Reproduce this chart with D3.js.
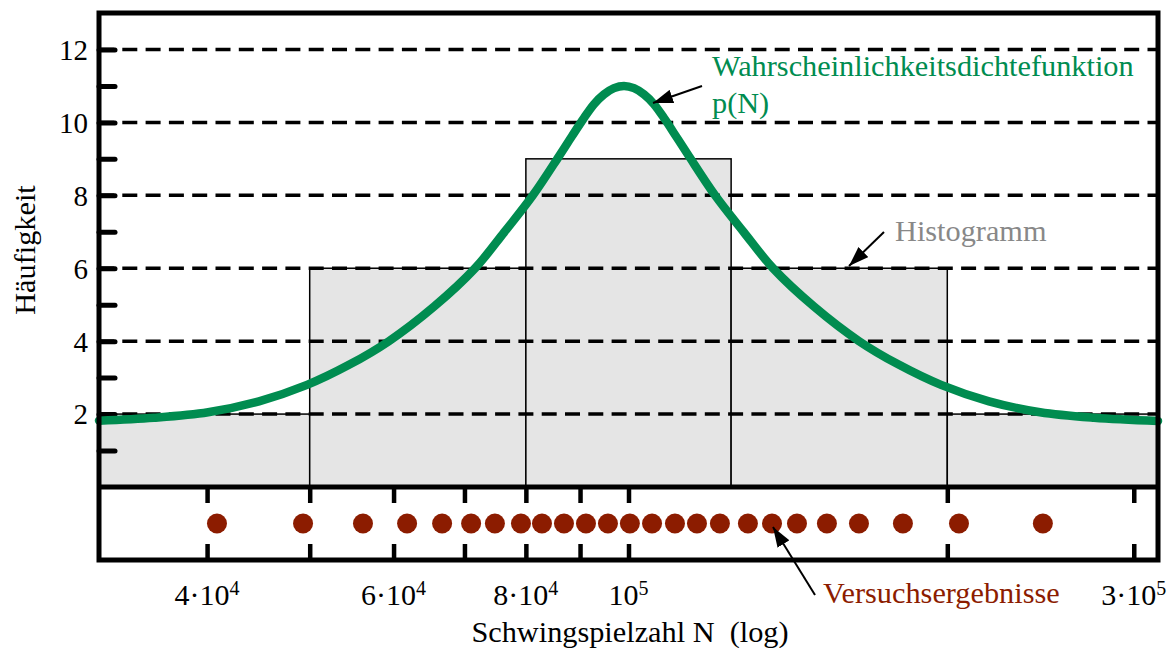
<!DOCTYPE html>
<html>
<head>
<meta charset="utf-8">
<script src="https://cdn.jsdelivr.net/npm/d3@7"></script>
<style>
  body { margin: 0; background: #fff; }
  svg { display: block; font-family: "Liberation Serif", "Times New Roman", serif; }
</style>
</head>
<body>
<svg></svg>
<script>
// Histogram + density of fatigue test results
const SVG = d3.select('svg');
const SVG_WIDTH = 1170;
const SVG_HEIGHT = 648;
const LEFT = 99, RIGHT = 1158, TOP = 13, BASE = 487, BOTTOM = 560;

// Data
const binEdges = [31623, 50000, 80000, 125000, 200000, 316228];
const binCounts = [2, 6, 9, 6, 2];
const samples = [40870, 49280, 56140, 61790, 66680, 71020, 74790, 79150, 82850, 86910,
                 91170, 95630, 100300, 105250, 110630, 116050, 121990, 129650, 136620,
                 144240, 153940, 165050, 181600, 205150, 246200];
const curveN = [31623, 35630, 40090, 44780, 49710, 54460, 59390, 65530, 71630, 76290,
                81230, 85960, 88420, 90570, 92770, 94810, 96900, 99030, 101200, 103430,
                105700, 108260, 110880, 114060, 120700, 128560, 136930, 149670, 165100, 180100,
                197300, 219000, 244700, 275200, 316228];
const curveP = [1.82, 1.9, 2.05, 2.35, 2.8, 3.35, 4.0, 4.95, 6.0, 6.98,
                8.0, 9.07, 9.62, 10.08, 10.5, 10.77, 10.94, 11.0, 10.94, 10.77,
                10.5, 10.08, 9.62, 9.07, 8.0, 6.98, 6.0, 4.95, 4.0, 3.35,
                2.8, 2.35, 2.05, 1.9, 1.81];
const yGridValues = [2, 4, 6, 8, 10, 12];
const yTickValues = [1, 2, 3, 4, 5, 6, 7, 8, 9, 10, 11, 12];
const xTickValues = [40000, 50000, 60000, 70000, 80000, 90000, 100000, 200000, 300000];
const xLabelValues = [40000, 60000, 80000, 100000, 300000];
const xLabelBase = ['4·10', '6·10', '8·10', '10', '3·10'];
const xLabelExp = ['4', '4', '4', '5', '5'];

const GREEN = '#008c50';
const RED = '#8c1c00';
const FONT = 30.3;

SVG.attr('width', SVG_WIDTH).attr('height', SVG_HEIGHT);

// Scales
var xScale = d3.scaleLog().domain([binEdges[0], binEdges[binEdges.length - 1]]).range([LEFT, RIGHT]);
var yScale = d3.scaleLinear().domain([0, 13]).range([BASE, TOP]);

// arrow marker
SVG.append('defs').append('marker')
   .attr('id', 'arrow')
   .attr('markerUnits', 'userSpaceOnUse')
   .attr('viewBox', '0 0 20 14')
   .attr('markerWidth', 20).attr('markerHeight', 14)
   .attr('refX', 20).attr('refY', 7)
   .attr('orient', 'auto')
   .append('path').attr('d', 'M0,0 L20,7 L0,14 Z').attr('fill', '#000');

//Histogram bars
var bins = binCounts.map((c, i) => ({x0: binEdges[i], x1: binEdges[i + 1], count: c}));
SVG.append('g').selectAll('rect')
   .data(bins)
   .enter()
   .append('rect')
      .attr('x', d => xScale(d.x0))
      .attr('y', d => yScale(d.count))
      .attr('width', d => xScale(d.x1) - xScale(d.x0))
      .attr('height', d => BASE - yScale(d.count))
      .attr('fill', '#e5e5e5')
      .attr('stroke', '#000')
      .attr('stroke-width', 1.5);

//Dashed grid
SVG.append('g').selectAll('line')
   .data(yGridValues)
   .enter()
   .append('line')
      .attr('x1', LEFT).attr('x2', RIGHT)
      .attr('y1', d => yScale(d)).attr('y2', d => yScale(d))
      .attr('stroke', '#000')
      .attr('stroke-width', 3.5)
      .attr('stroke-dasharray', '15,8.3');

//Y axis ticks (inward) with labels
var yAxis = d3.axisLeft(yScale).tickValues(yTickValues).tickSize(-16).tickPadding(11)
              .tickFormat(d => d % 2 === 0 ? d : '');
var yG = SVG.append('g').attr('transform', `translate(${LEFT}, 0)`).call(yAxis);
yG.select('.domain').remove();
yG.selectAll('.tick line').attr('stroke-width', 5).attr('stroke-linecap', 'round');
yG.selectAll('.tick text').attr('font-size', 29).attr('font-family', '"Liberation Serif", serif')
  .attr('fill', '#000').attr('dy', '0.34em');

//Density curve
var line = d3.line().x(d => xScale(d[0])).y(d => yScale(d[1])).curve(d3.curveCatmullRom.alpha(0.5));
SVG.append('path')
   .datum(curveN.map((n, i) => [n, curveP[i]]))
   .attr('d', line)
   .attr('fill', 'none')
   .attr('stroke', GREEN)
   .attr('stroke-width', 8.5)
   .attr('stroke-linecap', 'round');

//Dot panel ticks
var xTop = d3.axisBottom(xScale).tickValues(xTickValues).tickSize(16).tickFormat('');
var xBot = d3.axisTop(xScale).tickValues(xTickValues).tickSize(16).tickFormat('');
[SVG.append('g').attr('transform', `translate(0, ${BASE})`).call(xTop),
 SVG.append('g').attr('transform', `translate(0, ${BOTTOM})`).call(xBot)].forEach(g => {
  g.select('.domain').remove();
  g.selectAll('.tick line').attr('stroke-width', 4.5);
});

//Samples
SVG.append('g').selectAll('circle')
   .data(samples)
   .enter()
   .append('circle')
      .attr('cx', d => xScale(d))
      .attr('cy', (BASE + BOTTOM) / 2)
      .attr('r', 10)
      .attr('fill', RED);

//Frame
SVG.append('rect').attr('x', LEFT).attr('y', TOP)
   .attr('width', RIGHT - LEFT).attr('height', BOTTOM - TOP)
   .attr('fill', 'none').attr('stroke', '#000').attr('stroke-width', 5);
SVG.append('line').attr('x1', LEFT).attr('x2', RIGHT).attr('y1', BASE).attr('y2', BASE)
   .attr('stroke', '#000').attr('stroke-width', 5);

//X labels
var xl = SVG.append('g').selectAll('text')
   .data(xLabelValues)
   .enter()
   .append('text')
      .attr('x', d => xScale(d))
      .attr('y', 605)
      .attr('text-anchor', 'middle')
      .attr('font-size', 30);
xl.append('tspan').text((d, i) => xLabelBase[i]);
xl.append('tspan').attr('font-size', 20).attr('dy', -10).text((d, i) => xLabelExp[i]);

//Axis titles
SVG.append('text').attr('x', 630).attr('y', 642)
   .attr('text-anchor', 'middle').attr('font-size', FONT)
   .style('white-space', 'pre')
   .text('Schwingspielzahl N  (log)');
SVG.append('text').attr('transform', 'rotate(-90)')
   .attr('x', -250).attr('y', 35)
   .attr('text-anchor', 'middle').attr('font-size', FONT)
   .text('Häufigkeit');

//Annotations
SVG.append('text').attr('x', 712).attr('y', 76).attr('font-size', FONT).attr('fill', GREEN)
   .text('Wahrscheinlichkeitsdichtefunktion');
SVG.append('text').attr('x', 712).attr('y', 113).attr('font-size', FONT).attr('fill', GREEN)
   .text('p(N)');
SVG.append('text').attr('x', 895).attr('y', 241).attr('font-size', FONT).attr('fill', '#888')
   .text('Histogramm');
SVG.append('text').attr('x', 823).attr('y', 603).attr('font-size', FONT).attr('fill', RED)
   .text('Versuchsergebnisse');

[[702, 86, 653, 103], [884, 232, 849, 266], [815, 595, 773, 527]].forEach(a => {
  SVG.append('line').attr('x1', a[0]).attr('y1', a[1]).attr('x2', a[2]).attr('y2', a[3])
     .attr('stroke', '#000').attr('stroke-width', 2).attr('marker-end', 'url(#arrow)');
});
</script>
</body>
</html>
